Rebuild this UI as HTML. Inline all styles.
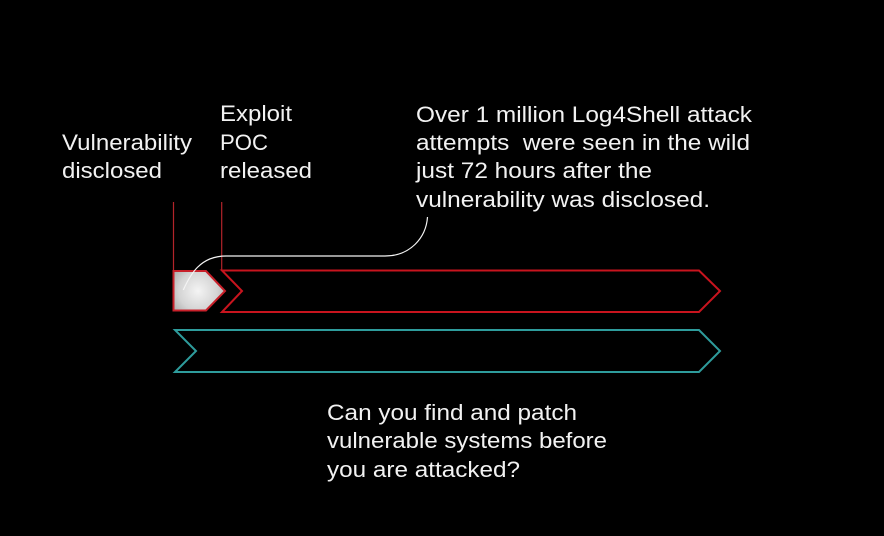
<!DOCTYPE html>
<html>
<head>
<meta charset="utf-8">
<style>
html,body{margin:0;padding:0;background:#000;}
body{width:884px;height:536px;overflow:hidden;}
svg{display:block;}
text{font-family:"Liberation Sans",Arial,sans-serif;font-size:22.5px;fill:#f2f2f2;}
</style>
</head>
<body>
<svg width="884" height="536" viewBox="0 0 884 536" xmlns="http://www.w3.org/2000/svg">
<defs>
<radialGradient id="g" cx="198" cy="291" r="32" gradientUnits="userSpaceOnUse">
<stop offset="0" stop-color="#f4f4f4"/>
<stop offset="0.6" stop-color="#d4d4d4"/>
<stop offset="1" stop-color="#a8a8a8"/>
</radialGradient>
</defs>
<rect width="884" height="536" fill="#000"/>

<!-- vertical marker lines -->
<line x1="173.5" y1="202" x2="173.5" y2="271" stroke="#b3242a" stroke-width="1.2"/>
<line x1="221.7" y1="202" x2="221.7" y2="271" stroke="#b3242a" stroke-width="1.2"/>

<!-- gray pentagon -->
<path d="M173.5,271 L206,271 L225,291 L206,310.5 L173.5,310.5 Z" fill="url(#g)" stroke="#c8202a" stroke-width="2"/>

<!-- red chevron -->
<path d="M222,270.5 L699,270.5 L720,291 L699,312 L222,312 L242,291 Z" fill="none" stroke="#c8141e" stroke-width="2"/>

<!-- teal chevron -->
<path d="M175,330 L699,330 L720,351 L699,372 L175,372 L196,351 Z" fill="none" stroke="#2e9c9c" stroke-width="2"/>

<!-- white connector -->
<path d="M183.3,290 C190,275 200,256 226,256 L385,256 C410,256 426,238 427.5,217" fill="none" stroke="#f4f4f4" stroke-width="1.2"/>

<!-- labels -->
<text x="62" y="150" textLength="130" lengthAdjust="spacingAndGlyphs">Vulnerability</text>
<text x="62" y="178" textLength="100" lengthAdjust="spacingAndGlyphs">disclosed</text>

<text x="220" y="121" textLength="72" lengthAdjust="spacingAndGlyphs">Exploit</text>
<text x="220" y="150" textLength="48" lengthAdjust="spacingAndGlyphs">POC</text>
<text x="220" y="178" textLength="92" lengthAdjust="spacingAndGlyphs">released</text>

<text x="416" y="122" textLength="336" lengthAdjust="spacingAndGlyphs">Over 1 million Log4Shell attack</text>
<text x="416" y="150" textLength="334" lengthAdjust="spacingAndGlyphs" xml:space="preserve">attempts  were seen in the wild</text>
<text x="416" y="178" textLength="236" lengthAdjust="spacingAndGlyphs">just 72 hours after the</text>
<text x="416" y="207" textLength="294" lengthAdjust="spacingAndGlyphs">vulnerability was disclosed.</text>

<text x="327" y="420" textLength="250" lengthAdjust="spacingAndGlyphs">Can you find and patch</text>
<text x="327" y="448" textLength="280" lengthAdjust="spacingAndGlyphs">vulnerable systems before</text>
<text x="327" y="477" textLength="193" lengthAdjust="spacingAndGlyphs">you are attacked?</text>
</svg>
</body>
</html>
